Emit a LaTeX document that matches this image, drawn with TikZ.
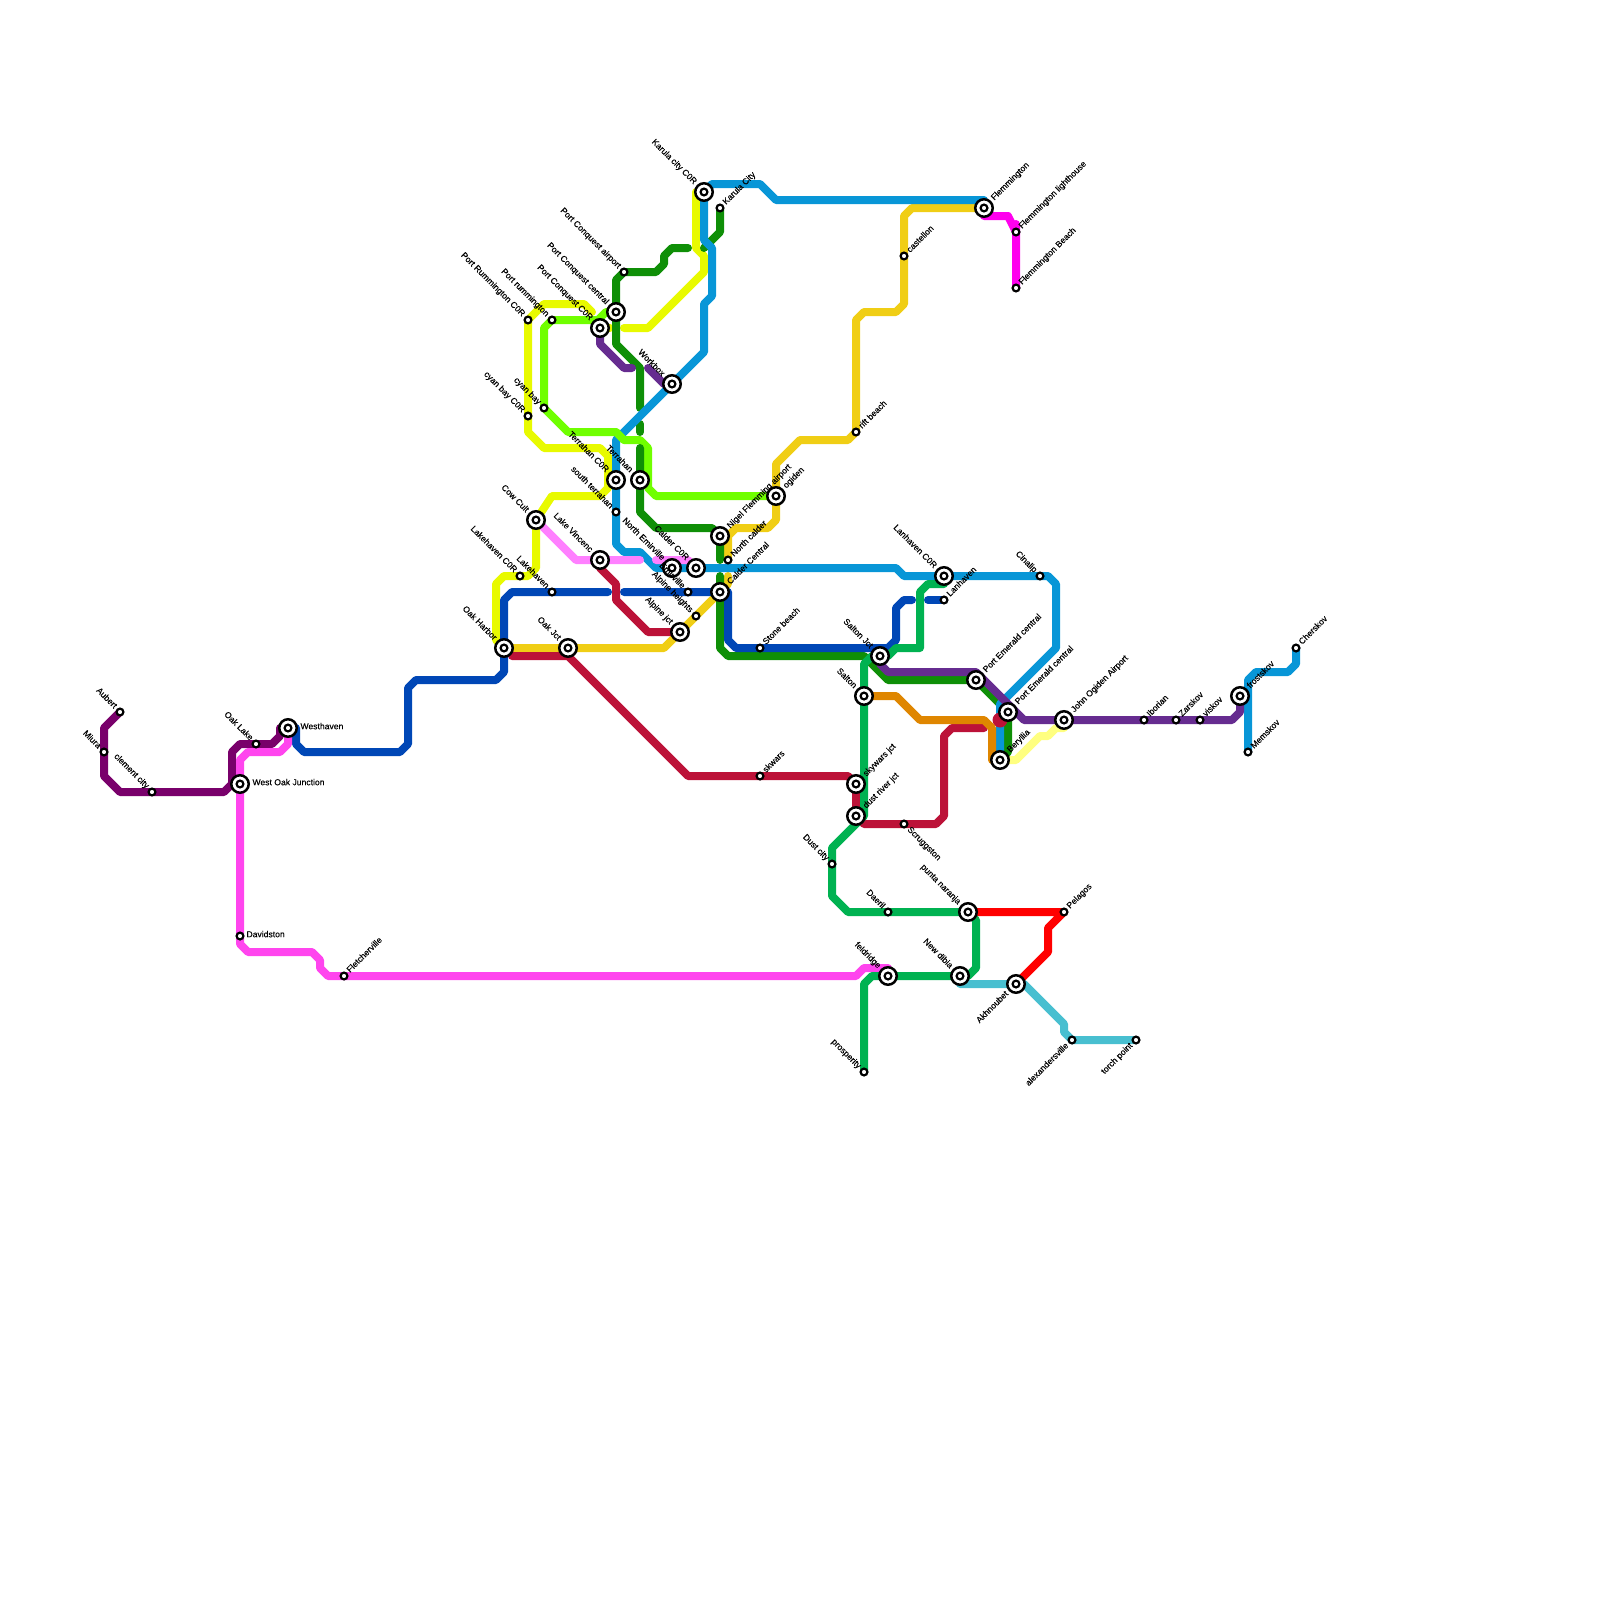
\documentclass[tikz,border=0pt]{standalone}
\usepackage{fontspec}
\setmainfont{Liberation Sans}
\newfontfamily\lblfont[FakeBold=0.2]{Liberation Sans}
\pgfdeclarelayer{lines}
\pgfsetlayers{lines,main}
\definecolor{cBlue}{HTML}{0896D7}
\definecolor{cNavy}{HTML}{0047B6}
\definecolor{cDGreen}{HTML}{0F8F07}
\definecolor{cMGreen}{HTML}{00B251}
\definecolor{cBright}{HTML}{70FF00}
\definecolor{cYellow}{HTML}{E8FA00}
\definecolor{cGold}{HTML}{F0CE15}
\definecolor{cCrimson}{HTML}{BC1238}
\definecolor{cPurple}{HTML}{662C90}
\definecolor{cPlum}{HTML}{79006B}
\definecolor{cMagenta}{HTML}{FF45EE}
\definecolor{cPink}{HTML}{FF80FF}
\definecolor{cHot}{HTML}{FF00EE}
\definecolor{cTeal}{HTML}{48BFD0}
\definecolor{cOrange}{HTML}{DF8600}
\definecolor{cPale}{HTML}{FFFF80}
\tikzset{
  ic/.style={circle,draw=black,fill=white,line width=2.5pt,inner sep=0pt,outer sep=0pt,minimum size=17.5pt,
    path picture={\draw[black,line width=2.2pt] (path picture bounding box.center) circle (3.4pt);}},
  sm/.style={circle,draw=black,fill=white,line width=2.2pt,inner sep=0pt,outer sep=0pt,minimum size=6.8pt},
  txt/.style={inner sep=0pt,outer sep=0pt,text=black,font=\lblfont\fontsize{8.6}{10}\selectfont,text height=6pt,text depth=1.6pt},
  lne/.style={txt,rotate=45,anchor=west,xshift=6.5pt},
  lnw/.style={txt,rotate=-45,anchor=east,xshift=-6.5pt},
  lsw/.style={txt,rotate=45,anchor=east,xshift=-6.5pt},
  lse/.style={txt,rotate=-45,anchor=west,xshift=6.5pt},
  le/.style={txt,anchor=west,xshift=6.5pt,yshift=1pt},
  Ine/.style={txt,rotate=45,anchor=west,xshift=12.5pt},
  Inw/.style={txt,rotate=-45,anchor=east,xshift=-12.5pt},
  Isw/.style={txt,rotate=45,anchor=east,xshift=-12.5pt},
  Ie/.style={txt,anchor=west,xshift=12.5pt,yshift=1pt},
  ln/.style={line width=8pt,line cap=round,line join=round}
}
\newcommand{\stn}[5]{\node[#1] (#2) at (#3) {}; \node[#4] (#2-t) at (#3) {#5};}
\begin{document}
\begin{tikzpicture}[x=1pt,y=-1pt]
\useasboundingbox (0,0) rectangle (1600,1600);
% stations
\stn{ic}{karC}{704,192}{Inw}{Karula city C0R}
\stn{sm}{kar}{720,208}{lne}{Karula City}
\stn{sm}{pca}{624,272}{lnw}{Port Conquest airport}
\stn{ic}{pcc}{616,312}{Inw}{Port Conquest central}
\stn{ic}{pcC}{600,328}{Inw}{Port Conquest C0R}
\stn{sm}{prm}{552,320}{lnw}{Port rummington}
\stn{sm}{prC}{528,320}{lnw}{Port Rummington C0R}
\stn{sm}{cya}{544,408}{lnw}{cyan bay}
\stn{sm}{cyC}{528,416}{lnw}{cyan bay C0R}
\stn{ic}{wrk}{672,384}{Inw}{Workbox}
\stn{ic}{teC}{616,480}{Inw}{Terrahan C0R}
\stn{ic}{ter}{640,480}{Inw}{Terrahan}
\stn{sm}{ste}{616,512}{lnw}{south terrahan}
\stn{ic}{cow}{536,520}{Inw}{Cow Cult}
\stn{ic}{nig}{720,536}{Ine}{Nigel Flemming airport}
\stn{ic}{ogi}{776,496}{Ine}{ogiden}
\stn{ic}{lkv}{600,560}{Inw}{Lake Vincenc}
\stn{sm}{lhC}{520,576}{lnw}{Lakehaven C0R}
\stn{sm}{lkh}{552,592}{lnw}{Lakehaven}
\stn{ic}{okh}{504,648}{Inw}{Oak Harbor}
\stn{ic}{okj}{568,648}{Inw}{Oak Jct}
\stn{ic}{alj}{680,632}{Inw}{Alpine jct}
\stn{sm}{alh}{696,616}{lnw}{Alpine heights}
\stn{ic}{nem}{672,568}{Inw}{North Emirville}
\stn{ic}{caC}{696,568}{Inw}{Calder C0R}
\stn{sm}{emi}{688,592}{lnw}{Emirville}
\stn{ic}{cal}{720,592}{Ine}{Calder Central}
\stn{sm}{ncl}{728,560}{lne}{North calder}
\stn{sm}{stb}{760,648}{lne}{Stone beach}
\stn{sm}{skw}{760,776}{lne}{skwars}
\stn{ic}{lnC}{944,576}{Inw}{Lanhaven C0R}
\stn{sm}{lan}{944,600}{lne}{Lanhaven}
\stn{sm}{cin}{1040,576}{lnw}{Cinalip}
\stn{ic}{saj}{880,656}{Inw}{Salton Jct}
\stn{ic}{sal}{864,696}{Inw}{Salton}
\stn{ic}{pem}{976,680}{Ine}{Port Emerald central}
\stn{ic}{pe2}{1008,712}{Ine}{Port Emerald central}
\stn{ic}{ber}{1000,760}{Ine}{Beryllia}
\stn{ic}{joh}{1064,720}{Ine}{John Ogiden Airport}
\stn{ic}{skj}{856,784}{Ine}{skywars jct}
\stn{ic}{drj}{856,816}{Ine}{dust river jct}
\stn{sm}{scr}{904,824}{lse}{Scruggston}
\stn{sm}{dus}{832,864}{lnw}{Dust city}
\stn{sm}{dae}{888,912}{lnw}{Daeril}
\stn{ic}{pun}{968,912}{Inw}{punta naranja}
\stn{sm}{pel}{1064,912}{lne}{Pelagos}
\stn{ic}{fel}{888,976}{Inw}{feldridge}
\stn{ic}{ndb}{960,976}{Inw}{New dibia}
\stn{ic}{akh}{1016,984}{Isw}{Akhnoubet}
\stn{sm}{alx}{1072,1040}{lsw}{alexandersville}
\stn{sm}{trc}{1136,1040}{lsw}{torch point}
\stn{sm}{pro}{864,1072}{lnw}{prosperity}
\stn{sm}{aub}{120,712}{lnw}{Aubert}
\stn{sm}{miu}{104,752}{lnw}{Miura}
\stn{sm}{cle}{152,792}{lnw}{clement city}
\stn{sm}{okl}{256,744}{lnw}{Oak Lake}
\stn{ic}{wes}{288,728}{Ie}{Westhaven}
\stn{ic}{woj}{240,784}{Ie}{West Oak Junction}
\stn{sm}{dav}{240,936}{le}{Davidston}
\stn{sm}{fle}{344,976}{lne}{Fletcherville}
\stn{sm}{ibo}{1144,720}{lne}{Iborian}
\stn{sm}{zar}{1176,720}{lne}{Zarskov}
\stn{sm}{vis}{1200,720}{lne}{viskov}
\stn{ic}{fro}{1240,696}{Ine}{frostskov}
\stn{sm}{mem}{1248,752}{lne}{Memskov}
\stn{sm}{che}{1296,648}{lne}{Cherskov}
\stn{ic}{flm}{984,208}{Ine}{Flemmington}
\stn{sm}{fll}{1016,232}{lne}{Flemmington lighthouse}
\stn{sm}{flb}{1016,288}{lne}{Flemmington Beach}
\stn{sm}{cas}{904,256}{lne}{castellon}
\stn{sm}{rif}{856,432}{lne}{rift beach}
\begin{pgfonlayer}{lines}
% yellow
\draw[ln,cYellow] (karC.center) -- (696,192) -- (696,248) -- (704,256) -- (704,272) -- (648,328) -- (624,328);
\draw[ln,cYellow] (pcC.center) -- (610,328);
\draw[ln,cYellow] (592,312) -- (584,304) -- (544,304) -- (prC.center) -- (cyC.center) -- (528,432) -- (544,448) -- (600,448) -- (608,456) -- (608,488) -- (600,496) -- (552,496) -- (cow.center) -- (536,568) -- (528,576) -- (lhC.center) -- (504,576) -- (496,584) -- (496,640) -- (okh.center);
% pale
\draw[ln,cPale] (ber.center) -- (1016,760) -- (1040,736) -- (1048,736) -- (1056,728) -- (1064,728) -- (joh.center);
% gold
\draw[ln,cGold] (okh.center) -- (okj.center) -- (664,648) -- (alj.center) -- (alh.center) -- (cal.center) -- (728,584) -- (728,576);
\draw[ln,cGold] (ncl.center) -- (728,536) -- (736,528) -- (768,528) -- (776,520) -- (ogi.center) -- (776,464) -- (800,440) -- (848,440) -- (rif.center) -- (856,320) -- (864,312) -- (896,312) -- (904,304) -- (cas.center) -- (904,216) -- (912,208) -- (flm.center);
% bright green
\draw[ln,cBright] (pcc.center) -- (606,312) -- (598,320) -- (prm.center) -- (544,328) -- (cya.center) -- (568,432) -- (616,432) -- (624,440) -- (640,440) -- (648,448) -- (648,488) -- (656,496) -- (ogi.center);
% dark green
\draw[ln,cDGreen] (kar.center) -- (720,232) -- (704,248);
\draw[ln,cDGreen] (688,248) -- (672,248) -- (664,256) -- (664,264) -- (656,272) -- (pca.center) -- (616,280) -- (616,344) -- (640,368) -- (640,408);
\draw[ln,cDGreen] (640,424) -- (640,432);
\draw[ln,cDGreen] (640,448) -- (ter.center) -- (640,512) -- (656,528) -- (712,528) -- (nig.center) -- (720,560);
\draw[ln,cDGreen] (720,576) -- (cal.center) -- (720,648) -- (728,656) -- (864,656) -- (888,680) -- (pem.center) -- (1008,712) -- (1008,752) -- (ber.center);
% blue
\draw[ln,cBlue] (flm.center) -- (984,200) -- (776,200) -- (760,184) -- (712,184) -- (karC.center) -- (704,240) -- (712,248) -- (712,296) -- (704,304) -- (704,352) -- (624,432) -- (616,440) -- (ste.center) -- (616,544) -- (624,552) -- (640,552) -- (656,568) -- (caC.center) -- (896,568) -- (904,576) -- (cin.center) -- (1048,576) -- (1056,584) -- (1056,648) -- (1000,704) -- (ber.center);
\draw[ln,cBlue] (mem.center) -- (1248,680) -- (1256,672) -- (1288,672) -- (1296,664) -- (che.center);
% bright green over blue at the Terrahan crossing
\draw[ln,cBright] (616,432) -- (624,440);
% navy
\draw[ln,cNavy] (wes.center) -- (296,728) -- (296,744) -- (304,752) -- (400,752) -- (408,744) -- (408,688) -- (416,680) -- (496,680) -- (504,672) -- (504,600) -- (512,592) -- (lkh.center) -- (608,592);
\draw[ln,cNavy] (624,592) -- (emi.center) -- (cal.center) -- (728,592) -- (728,640) -- (736,648) -- (stb.center) -- (888,648) -- (896,640) -- (896,608) -- (904,600) -- (912,600);
\draw[ln,cNavy] (928,600) -- (lan.center);
% crimson
\draw[ln,cCrimson] (512,656) -- (568,656) -- (688,776) -- (skw.center) -- (848,776) -- (skj.center) -- (drj.center) -- (864,824) -- (scr.center) -- (936,824) -- (944,816) -- (944,736) -- (952,728) -- (984,728);
\draw[ln,cCrimson] (lkv.center) -- (600,568) -- (616,584) -- (616,600) -- (648,632) -- (alj.center);
\fill[cCrimson] (pe2.center) ++(-8,8) circle (7.5pt);
% orange
\draw[ln,cOrange] (sal.center) -- (896,696) -- (920,720) -- (984,720) -- (992,728) -- (992,760) -- (ber.center);
% purple
\draw[ln,cPurple] (saj.center) -- (880,664) -- (888,672) -- (976,672) -- (1024,720) -- (joh.center) -- (ibo.center) -- (zar.center) -- (vis.center) -- (1232,720) -- (1240,712) -- (fro.center);
\draw[ln,cPurple] (pcC.center) -- (600,344) -- (624,368) -- (632,368);
\draw[ln,cPurple] (648,368) -- (664,384) -- (wrk.center);
% plum
\draw[ln,cPlum] (aub.center) -- (104,728) -- (miu.center) -- (104,776) -- (120,792) -- (cle.center) -- (224,792) -- (232,784) -- (232,752) -- (240,744) -- (okl.center) -- (272,744) -- (280,736) -- (280,728) -- (wes.center);
\draw[ln,cPlum] (232,784) -- (woj.center);
% magenta
\draw[ln,cMagenta] (wes.center) -- (288,744) -- (280,752) -- (248,752) -- (240,760) -- (woj.center) -- (dav.center) -- (240,944) -- (248,952) -- (312,952) -- (320,960) -- (320,968) -- (328,976) -- (fle.center) -- (856,976) -- (864,968) -- (888,968) -- (fel.center);
% pink
\draw[ln,cPink] (cow.center) -- (576,560) -- (lkv.center) -- (640,560);
\draw[ln,cPink] (656,560) -- (688,560) -- (caC.center);
% hot magenta
\draw[ln,cHot] (flm.center) -- (984,216) -- (1008,216) -- (fll.center) -- (1016,224) -- (flb.center);
% teal
\draw[ln,cTeal] (ndb.center) -- (960,984) -- (akh.center) -- (1024,984) -- (1064,1024) -- (1064,1032) -- (alx.center) -- (trc.center);
% red
\draw[ln,red] (pun.center) -- (pel.center) -- (1048,928) -- (1048,952) -- (akh.center);
% medium green
\draw[ln,cMGreen] (lnC.center) -- (944,584) -- (928,584) -- (920,592) -- (920,648) -- (896,648) -- (888,656) -- (saj.center) -- (872,656) -- (864,664) -- (sal.center) -- (864,816) -- (832,848) -- (dus.center) -- (832,896) -- (848,912) -- (dae.center) -- (pun.center) -- (976,920) -- (976,968) -- (968,976) -- (ndb.center) -- (fel.center) -- (872,976) -- (864,984) -- (pro.center);
\end{pgfonlayer}
\end{tikzpicture}
\end{document}
